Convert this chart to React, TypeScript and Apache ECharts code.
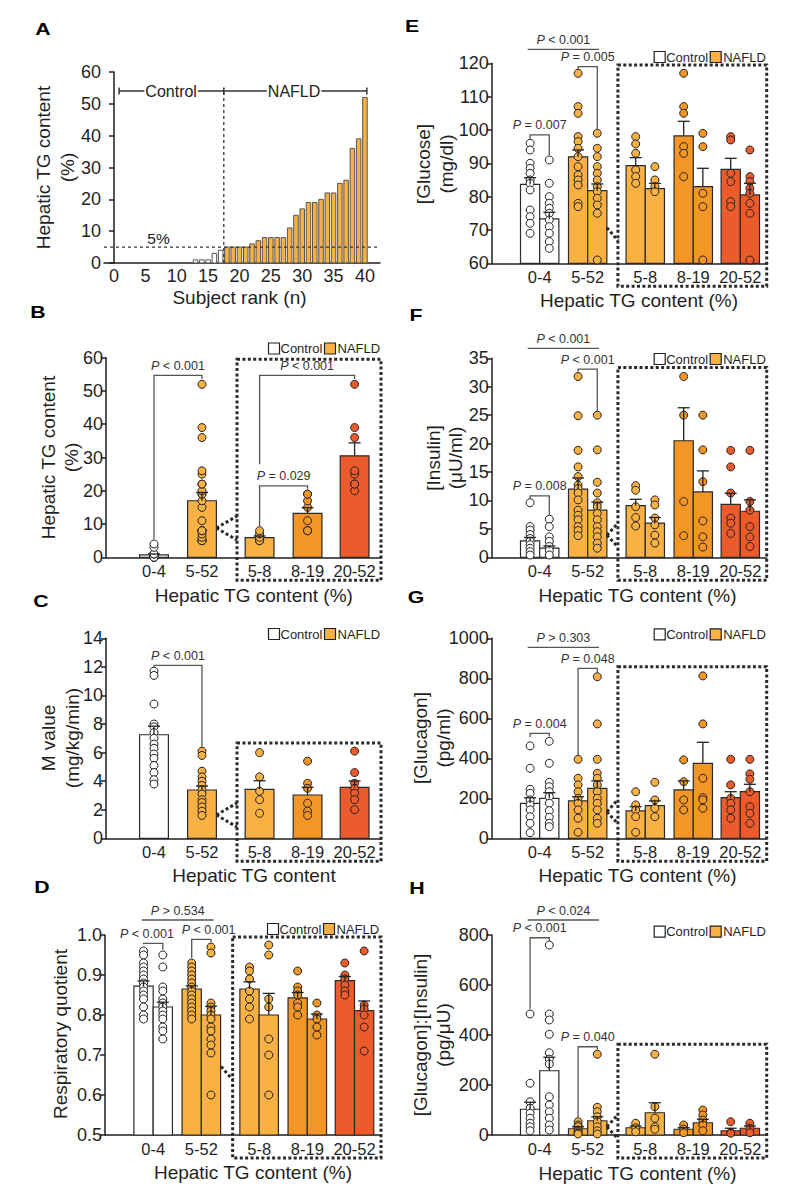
import React, { useEffect, useRef } from "react";
import * as echarts from "echarts";

// ================= DATA =================
const groupLabels = ["0-4", "5-52", "5-8", "8-19", "20-52"];

// Panel A: hepatic TG content of each subject, ordered by rank
const subjectTG = [0, 0, 0, 0, 0, 0, 0, 0, 0, 0, 0, 0, 1, 1, 1, 3, 4, 5, 5, 5, 5, 6, 7, 8, 8, 8, 8, 11, 15, 17, 19, 19, 20, 22, 22, 25, 26, 36, 39, 52];
const controlSubjects = 17;
const rankTicks = [0, 5, 10, 15, 20, 25, 30, 35, 40];
const tgTicksA = [0, 10, 20, 30, 40, 50, 60];

// Panel B: hepatic TG content
const tgTicks = [0, 10, 20, 30, 40, 50, 60];
const tgMean = [0.7, 17.0, 5.9, 13.2, 30.5];
const tgSem = [0.3, 2.5, 0.5, 1.7, 3.9];
const tgPoints = [
  [0, 0, 0, 0, 0, 0, 0, 0, 0, 0, 0, 0, 1, 1, 1, 3, 4],
  [5, 5, 5, 5, 6, 7, 8, 8, 8, 8, 11, 15, 17, 19, 19, 20, 22, 22, 25, 26, 36, 39, 52],
  [5, 5, 5, 5, 6, 7, 8],
  [8, 8, 8, 11, 15, 17, 19, 19],
  [20, 22, 22, 25, 26, 36, 39, 52],
];

// Panel C: M value
const mTicks = [0, 2, 4, 6, 8, 10, 12, 14];
const mMean = [7.25, 3.38, 3.43, 3.03, 3.57];
const mSem = [0.6, 0.28, 0.6, 0.54, 0.44];
const mPoints = [
  [11.7, 11.4, 9.4, 8.0, 7.8, 7.4, 7.0, 6.6, 6.3, 5.9, 5.6, 5.1, 4.6, 4.1, 3.8],
  [6.1, 5.8, 4.7, 4.3, 4.0, 3.7, 3.4, 3.1, 2.7, 2.5, 2.2, 1.9, 1.6],
  [6.0, 4.3, 3.3, 2.7, 1.75],
  [5.4, 3.85, 3.5, 2.45, 1.9, 1.6],
  [6.1, 4.6, 3.85, 3.5, 3.15, 2.7, 2.0],
];

// Panel D: respiratory quotient (left / right bar of each pair)
const rqTicks = [0.5, 0.6, 0.7, 0.8, 0.9, 1.0];
const rqMeanL = [0.872, 0.865, 0.865, 0.843, 0.886];
const rqSemL = [0.013, 0.008, 0.018, 0.013, 0.01];
const rqMeanR = [0.82, 0.8, 0.8, 0.79, 0.811];
const rqSemR = [0.012, 0.022, 0.054, 0.0125, 0.024];
const rqPointsL = [
  [0.96, 0.95, 0.93, 0.92, 0.91, 0.9, 0.89, 0.88, 0.87, 0.86, 0.85, 0.84, 0.82, 0.8, 0.79],
  [0.93, 0.92, 0.91, 0.9, 0.89, 0.88, 0.87, 0.86, 0.85, 0.84, 0.83, 0.82, 0.81, 0.8, 0.79],
  [0.92, 0.91, 0.89, 0.86, 0.84, 0.82, 0.79],
  [0.91, 0.87, 0.86, 0.85, 0.83, 0.82, 0.8],
  [0.93, 0.9, 0.89, 0.875, 0.86, 0.85],
];
const rqPointsR = [
  [0.95, 0.92, 0.87, 0.86, 0.84, 0.83, 0.82, 0.81, 0.8, 0.79, 0.77, 0.76, 0.74],
  [0.97, 0.955, 0.83, 0.82, 0.81, 0.8, 0.79, 0.77, 0.76, 0.74, 0.725, 0.705, 0.6],
  [0.975, 0.95, 0.84, 0.82, 0.74, 0.7, 0.6],
  [0.83, 0.8, 0.79, 0.77, 0.75],
  [0.96, 0.825, 0.815, 0.8, 0.77, 0.71],
];

// Panel E: glucose
const gluTicks = [60, 70, 80, 90, 100, 110, 120];
const gluMeanL = [83.7, 91.9, 89.3, 98.2, 88.2];
const gluSemL = [2.0, 2.1, 2.4, 4.4, 3.3];
const gluMeanR = [73.3, 81.8, 82.4, 83.0, 80.5];
const gluSemR = [2.0, 2.0, 1.6, 5.5, 3.5];
const gluPointsL = [
  [96, 94, 90, 88.5, 87, 85, 84, 82, 76, 74, 72, 69],
  [117, 107, 105, 98, 96.5, 94.5, 92, 89, 86.5, 85, 83.5, 78, 77],
  [98, 95.8, 93, 88, 86, 84],
  [117, 107, 105, 95, 93, 86],
  [98, 97, 87, 84.5, 78.5, 77],
];
const gluPointsR = [
  [91, 84, 80, 78, 76.5, 75, 73, 71, 69, 66.5, 64.5],
  [99, 94.5, 92, 89, 87, 85, 83, 81.5, 79.5, 77.5, 75, 61],
  [89, 85, 83, 81.5],
  [99, 95, 81, 77, 61],
  [94, 86, 84.5, 82.5, 81, 78, 75, 61],
];

// Panel F: insulin
const insTicks = [0, 5, 10, 15, 20, 25, 30, 35];
const insMeanL = [2.9, 12.0, 9.1, 20.5, 9.3];
const insSemL = [0.6, 1.95, 1.1, 5.8, 1.95];
const insMeanR = [1.6, 8.3, 6.0, 11.5, 8.1];
const insSemR = [0.4, 1.4, 1.0, 3.7, 2.0];
const insPointsL = [
  [9.6, 5.4, 4.8, 4.0, 3.3, 2.8, 2.2, 1.6, 1.0, 0.4],
  [31.8, 24.9, 18.8, 15.9, 14.2, 12.7, 12.1, 11.3, 10.1, 8.3, 7.4, 6.6, 5.4, 4.7, 3.8],
  [12.6, 11.8, 8.9, 7.0, 5.5],
  [31.8, 25, 9.8, 3.8],
  [18.8, 15.9, 11.3, 6.9, 6.0, 4.2],
];
const insPointsR = [
  [6.7, 5.4, 3.6, 2.8, 1.9, 1.2, 0.4],
  [25, 18.9, 13.2, 11.3, 9.6, 8.9, 7.7, 6.6, 5.4, 4.5, 3.6, 2.5, 1.6],
  [10.1, 9.2, 6.9, 5.7, 3.9, 2.5],
  [25, 18.9, 13.3, 6.4, 3.6, 1.8],
  [18.8, 9.8, 8.3, 5.4, 3.6, 1.9],
];

// Panel G: glucagon
const gcgTicks = [0, 200, 400, 600, 800, 1000];
const gcgMeanL = [175, 187, 137, 242, 203];
const gcgSemL = [28, 21, 21, 45, 30];
const gcgMeanR = [200, 250, 163, 375, 233];
const gcgSemR = [28, 37, 24, 105, 37];
const gcgPointsL = [
  [462, 350, 245, 225, 192, 167, 142, 108, 75, 28],
  [395, 300, 267, 233, 200, 175, 142, 100, 30],
  [233, 167, 142, 108, 30],
  [392, 283, 192, 142],
  [395, 267, 200, 175, 142, 100],
];
const gcgPointsR = [
  [485, 375, 280, 258, 233, 208, 175, 138, 105, 75, 58],
  [808, 572, 395, 325, 300, 267, 233, 200, 175, 142, 100, 75],
  [280, 192, 150, 108],
  [812, 572, 300, 203, 192, 150],
  [395, 322, 295, 233, 158, 125, 75],
];

// Panel H: glucagon : insulin
const ratioTicks = [0, 200, 400, 600, 800];
const ratioMeanL = [103, 25, 29, 23, 17];
const ratioSemL = [28, 8, 7, 6, 10];
const ratioMeanR = [257, 57, 89, 49, 27];
const ratioSemR = [54, 16, 40, 14, 9];
const ratioPointsL = [
  [484, 207, 133, 107, 87, 67, 47, 33, 17],
  [53, 40, 33, 20, 13, 7, 4],
  [47, 29, 13],
  [40, 23, 9],
  [53, 10, 7],
];
const ratioPointsR = [
  [760, 484, 460, 403, 329, 303, 284, 153, 120, 93, 67, 40, 20],
  [323, 111, 93, 73, 53, 33, 17, 4],
  [323, 113, 67, 33, 23],
  [100, 80, 60, 40, 17],
  [47, 27, 9],
];

// Significance brackets: [x1, x2, yTop, yLeftEnd, yRightEnd, label, textX?]
const tgBrackets = [
  [1, 2, 54.7, 5.5, 53.6, "< 0.001"],
  [3.2, 5.18, 54.7, 28, 53.6, "< 0.001"],
  [3.2, 4.2, 21.5, 9.4, 20.6, "= 0.029"],
];
const mBrackets = [[1, 2, 12.1, 12.0, 6.4, "< 0.001"]];
const rqBrackets = [
  [0.8, 1.2, 0.979, 0.977, 0.963, "< 0.001", 0.87],
  [1.8, 2.2, 0.989, 0.942, 0.982, "< 0.001", 2.15],
  [0.765, 2.256, 1.0375, 1.0375, 1.0375, "> 0.534"],
];
const gluBrackets = [
  [0.75, 2.235, 124.2, 124.2, 124.2, "< 0.001"],
  [1.8, 2.2, 119, 118.2, 100.3, "= 0.005"],
  [0.8, 1.2, 98.5, 97.4, 92.4, "= 0.007"],
];
const insBrackets = [
  [0.75, 2.235, 36.75, 36.75, 36.75, "< 0.001"],
  [1.8, 2.2, 33.1, 32.7, 25.7, "< 0.001"],
  [0.8, 1.2, 10.8, 10.3, 7.5, "= 0.008"],
];
const gcgBrackets = [
  [0.75, 2.235, 955, 955, 955, "> 0.303"],
  [1.8, 2.2, 850, 410, 830, "= 0.048"],
  [0.8, 1.2, 525, 505, 510, "= 0.004"],
];
const ratioBrackets = [
  [0.75, 2.235, 860, 860, 860, "< 0.024"],
  [0.8, 1.2, 789, 505, 777, "< 0.001"],
  [1.8, 2.2, 353, 72, 342, "= 0.040"],
];

// ================= STYLE / LAYOUT =================
const FONT = "'Liberation Sans', Arial, Helvetica, sans-serif";
const INK = "#1f1f1f";
const groupX = [1, 2, 3.2, 4.2, 5.18];
const X_MAX = 5.73;
const fills = ["#FFFFFF", "#F9B143", "#F9B143", "#F39626", "#EC5B2B"];
const LIGHT = "#F9B143";

const grids = [
  { left: 104, top: 72, width: 276, height: 191 }, // A
  { left: 106, top: 357.7, width: 275, height: 199.6 }, // B
  { left: 106, top: 638.3, width: 275, height: 200 }, // C
  { left: 105, top: 935, width: 276, height: 200 }, // D
  { left: 491.7, top: 63.3, width: 275, height: 200 }, // E
  { left: 491.7, top: 358.3, width: 275, height: 199 }, // F
  { left: 491.7, top: 638.3, width: 275, height: 200 }, // G
  { left: 491.7, top: 935, width: 275, height: 200 }, // H
];

function yAxisFor(gi: number, ticks: number[], decimals = 0) {
  return {
    type: "value",
    gridIndex: gi,
    min: ticks[0],
    max: ticks[ticks.length - 1],
    interval: ticks[1] - ticks[0],
    axisLine: { show: true, lineStyle: { color: INK, width: 1.5 } },
    axisTick: { show: true, length: 5, lineStyle: { color: INK, width: 1.5 } },
    splitLine: { show: false },
    axisLabel: {
      fontSize: 18,
      fontFamily: FONT,
      color: INK,
      margin: 3,
      formatter: (v: number) => v.toFixed(decimals),
    },
  };
}

function xAxisGroups(gi: number) {
  return {
    type: "value",
    gridIndex: gi,
    min: 0,
    max: X_MAX,
    axisLine: { show: true, onZero: false, lineStyle: { color: INK, width: 1.5 } },
    axisTick: { show: false },
    splitLine: { show: false },
    axisLabel: {
      customValues: groupX,
      fontSize: 16.5,
      fontFamily: FONT,
      color: INK,
      margin: 5,
      formatter: (v: number) => {
        const i = groupX.findIndex((g) => Math.abs(g - v) < 1e-6);
        return i >= 0 ? groupLabels[i] : "";
      },
    },
  };
}

const pRich = {
  i: { fontStyle: "italic", fontSize: 12.5, fontFamily: FONT, fill: "#333" },
  n: { fontSize: 12.5, fontFamily: FONT, fill: "#333" },
};

const DOT_STYLE = { stroke: "#2a2a2a", lineWidth: 3, lineDash: [3, 2.4], fill: "none" };

function panelSeries(opts: any) {
  const { gi, yMin, single, sides, brackets, box } = opts;
  const series: any[] = [];
  const defs = single
    ? [{ off: 0, hw: 0.3, ...sides[0] }]
    : [
        { off: -0.2, hw: 0.2, ...sides[0] },
        { off: 0.2, hw: 0.2, ...sides[1] },
      ];
  defs.forEach((s: any) => {
    const hw = s.hw;
    series.push({
      type: "custom",
      xAxisIndex: gi,
      yAxisIndex: gi,
      clip: false,
      silent: true,
      z: 1,
      data: groupX.map((c, i) => [c + s.off, s.mean[i], i]),
      renderItem: (params: any, api: any) => {
        const x = api.value(0);
        const m = api.value(1);
        const i = api.value(2);
        const a = api.coord([x - hw, yMin]);
        const b = api.coord([x + hw, m]);
        return {
          type: "rect",
          shape: { x: a[0], y: b[1], width: b[0] - a[0], height: a[1] - b[1] },
          style: { fill: fills[i], stroke: "#2a2a2a", lineWidth: 1.2 },
        };
      },
    });
    const pts: any[] = [];
    s.pts.forEach((arr: number[], i: number) => {
      arr.forEach((v) => {
        pts.push({ value: [groupX[i] + s.off, v], itemStyle: { color: fills[i] } });
      });
    });
    series.push({
      type: "scatter",
      xAxisIndex: gi,
      yAxisIndex: gi,
      silent: true,
      z: 3,
      symbol: "circle",
      symbolSize: 8,
      itemStyle: { borderColor: "#222", borderWidth: 1, opacity: 1 },
      emphasis: { disabled: true },
      data: pts,
    });
    series.push({
      type: "custom",
      xAxisIndex: gi,
      yAxisIndex: gi,
      clip: false,
      silent: true,
      z: 4,
      data: groupX.map((c, i) => [c + s.off, s.mean[i], s.sem[i]]),
      renderItem: (params: any, api: any) => {
        const x = api.value(0);
        const m = api.value(1);
        const e = api.value(2);
        const a = api.coord([x, m]);
        const b = api.coord([x, m + e]);
        const st = { stroke: "#222", lineWidth: 1.3 };
        return {
          type: "group",
          children: [
            { type: "line", shape: { x1: a[0], y1: a[1], x2: b[0], y2: b[1] }, style: st },
            { type: "line", shape: { x1: b[0] - 6, y1: b[1], x2: b[0] + 6, y2: b[1] }, style: st },
          ],
        };
      },
    });
  });

  series.push({
    type: "custom",
    xAxisIndex: gi,
    yAxisIndex: gi,
    clip: false,
    silent: true,
    z: 6,
    data: [[1, yMin]],
    renderItem: (params: any, api: any) => {
      const children: any[] = [];
      brackets.forEach((bk: any[]) => {
        const [x1, x2, y, yl, yr, label, tx] = bk;
        const points = [api.coord([x1, yl]), api.coord([x1, y]), api.coord([x2, y]), api.coord([x2, yr])];
        children.push({
          type: "polyline",
          shape: { points },
          style: { stroke: "#555", lineWidth: 1.3, fill: "none" },
        });
        const c = api.coord([tx !== undefined ? tx : (x1 + x2) / 2, y]);
        children.push({
          type: "text",
          x: c[0],
          y: c[1] - 9.5,
          style: {
            text: "{i|P}{n| " + label + "}",
            rich: pRich,
            align: "center",
            verticalAlign: "middle",
          },
        });
      });
      const tl = api.coord([box.left, box.top]);
      const br = api.coord([X_MAX, yMin]);
      children.push({
        type: "rect",
        shape: { x: tl[0], y: tl[1], width: br[0] - tl[0], height: br[1] + 23 - tl[1] },
        style: DOT_STYLE,
      });
      const s0 = api.coord([box.cx, box.cy]);
      const ends = box.both ? [-12, 12] : [13];
      ends.forEach((d: number) => {
        children.push({
          type: "line",
          shape: { x1: s0[0], y1: s0[1], x2: tl[0], y2: s0[1] + d },
          style: DOT_STYLE,
        });
      });
      return { type: "group", children };
    },
  });
  return series;
}

function panelASeries() {
  const series: any[] = [];
  series.push({
    type: "custom",
    xAxisIndex: 0,
    yAxisIndex: 0,
    clip: false,
    silent: true,
    z: 1,
    data: subjectTG.map((v, i) => [i + 1, v, i < controlSubjects ? 0 : 1]),
    renderItem: (params: any, api: any) => {
      const x = api.value(0);
      const v = api.value(1);
      if (!(v > 0)) return null;
      const a = api.coord([x - 0.36, 0]);
      const b = api.coord([x + 0.36, v]);
      return {
        type: "rect",
        shape: { x: a[0], y: b[1], width: b[0] - a[0], height: a[1] - b[1] },
        style: { fill: api.value(2) ? LIGHT : "#fff", stroke: "#555", lineWidth: 1 },
      };
    },
  });
  series.push({
    type: "custom",
    xAxisIndex: 0,
    yAxisIndex: 0,
    clip: false,
    silent: true,
    z: 5,
    data: [[1, 0]],
    renderItem: (params: any, api: any) => {
      const dash = { stroke: "#333", lineWidth: 1.3, lineDash: [3, 3] };
      const solid = { stroke: "#333", lineWidth: 1.5 };
      const h1 = api.coord([-1.6, 5]);
      const h2 = api.coord([42.4, 5]);
      const v1 = api.coord([17.5, 0]);
      const v2 = api.coord([17.5, 54.9]);
      const b1 = api.coord([0.8, 54]);
      const b2 = api.coord([40.3, 54]);
      const children: any[] = [
        { type: "line", shape: { x1: h1[0], y1: h1[1], x2: h2[0], y2: h2[1] }, style: dash },
        { type: "line", shape: { x1: v1[0], y1: v1[1], x2: v2[0], y2: v2[1] }, style: dash },
        { type: "line", shape: { x1: b1[0], y1: b1[1], x2: b2[0], y2: b2[1] }, style: solid },
        { type: "line", shape: { x1: b1[0], y1: b1[1] - 3.5, x2: b1[0], y2: b1[1] + 3.5 }, style: solid },
        { type: "line", shape: { x1: b2[0], y1: b2[1] - 3.5, x2: b2[0], y2: b2[1] + 3.5 }, style: solid },
        { type: "line", shape: { x1: v2[0], y1: b1[1] - 3.5, x2: v2[0], y2: b1[1] + 3.5 }, style: solid },
      ];
      const label = (txt: string, x: number) => {
        const p = api.coord([x, 54]);
        return {
          type: "text",
          x: p[0],
          y: p[1],
          style: {
            text: txt,
            fontSize: 16,
            fontFamily: FONT,
            fill: "#222",
            align: "center",
            verticalAlign: "middle",
            backgroundColor: "#fff",
            padding: [0, 1],
          },
        };
      };
      children.push(label("Control", 9.1));
      children.push(label("NAFLD", 28.7));
      const f = api.coord([7.1, 5]);
      children.push({
        type: "text",
        x: f[0],
        y: f[1] - 9,
        style: { text: "5%", fontSize: 15.5, fontFamily: FONT, fill: "#222", align: "center", verticalAlign: "middle" },
      });
      return { type: "group", children };
    },
  });
  return series;
}

function buildOption() {
  const xAxes: any[] = [
    {
      type: "value",
      gridIndex: 0,
      min: -1.6,
      max: 42.4,
      axisLine: { show: true, onZero: false, lineStyle: { color: INK, width: 1.5 } },
      axisTick: { show: false },
      splitLine: { show: false },
      axisLabel: { customValues: rankTicks, fontSize: 18, fontFamily: FONT, color: INK, margin: 4 },
    },
  ];
  for (let g = 1; g < 8; g++) xAxes.push(xAxisGroups(g));
  const yAxes = [
    yAxisFor(0, tgTicksA),
    yAxisFor(1, tgTicks),
    yAxisFor(2, mTicks),
    yAxisFor(3, rqTicks, 1),
    yAxisFor(4, gluTicks),
    yAxisFor(5, insTicks),
    yAxisFor(6, gcgTicks),
    yAxisFor(7, ratioTicks),
  ];

  const series: any[] = [
    ...panelASeries(),
    ...panelSeries({
      gi: 1, yMin: 0, single: true,
      sides: [{ mean: tgMean, sem: tgSem, pts: tgPoints }],
      brackets: tgBrackets,
      box: { left: 2.73, top: 59.5, cx: 2.3, cy: 8.8, both: true },
    }),
    ...panelSeries({
      gi: 2, yMin: 0, single: true,
      sides: [{ mean: mMean, sem: mSem, pts: mPoints }],
      brackets: mBrackets,
      box: { left: 2.73, top: 6.67, cx: 2.3, cy: 1.63, both: true },
    }),
    ...panelSeries({
      gi: 3, yMin: 0.5, single: false,
      sides: [
        { mean: rqMeanL, sem: rqSemL, pts: rqPointsL },
        { mean: rqMeanR, sem: rqSemR, pts: rqPointsR },
      ],
      brackets: rqBrackets,
      box: { left: 2.65, top: 0.995, cx: 2.41, cy: 0.671, both: false },
    }),
    ...panelSeries({
      gi: 4, yMin: 60, single: false,
      sides: [
        { mean: gluMeanL, sem: gluSemL, pts: gluPointsL },
        { mean: gluMeanR, sem: gluSemR, pts: gluPointsR },
      ],
      brackets: gluBrackets,
      box: { left: 2.63, top: 119.5, cx: 2.4, cy: 70.7, both: false },
    }),
    ...panelSeries({
      gi: 5, yMin: 0, single: false,
      sides: [
        { mean: insMeanL, sem: insSemL, pts: insPointsL },
        { mean: insMeanR, sem: insSemR, pts: insPointsR },
      ],
      brackets: insBrackets,
      box: { left: 2.63, top: 33.4, cx: 2.4, cy: 3.9, both: true },
    }),
    ...panelSeries({
      gi: 6, yMin: 0, single: false,
      sides: [
        { mean: gcgMeanL, sem: gcgSemL, pts: gcgPointsL },
        { mean: gcgMeanR, sem: gcgSemR, pts: gcgPointsR },
      ],
      brackets: gcgBrackets,
      box: { left: 2.63, top: 858, cx: 2.4, cy: 133, both: true },
    }),
    ...panelSeries({
      gi: 7, yMin: 0, single: false,
      sides: [
        { mean: ratioMeanL, sem: ratioSemL, pts: ratioPointsL },
        { mean: ratioMeanR, sem: ratioSemR, pts: ratioPointsR },
      ],
      brackets: ratioBrackets,
      box: { left: 2.63, top: 363, cx: 2.4, cy: 33, both: true },
    }),
  ];

  // ---- static text via graphic ----
  const g: any[] = [];
  const txt = (text: string, x: number, y: number, extra: any = {}) => ({
    type: "text",
    x,
    y,
    silent: true,
    ...(extra.el || {}),
    style: {
      text,
      fontFamily: FONT,
      fontSize: 19,
      fill: INK,
      align: "center",
      verticalAlign: "middle",
      ...(extra.style || {}),
    },
  });
  const letters: [string, number, number][] = [
    ["A", 43, 29], ["B", 38, 312], ["C", 41, 601], ["D", 42, 887],
    ["E", 412, 26], ["F", 416, 315], ["G", 416, 597], ["H", 417, 888],
  ];
  letters.forEach(([t, x, y]) =>
    g.push(txt(t, x, y, { el: { scaleX: 1.25 }, style: { fontWeight: "bold", fontSize: 17, fill: "#000" } }))
  );
  const yTitles: [string, number, number][] = [
    ["Hepatic TG content", 43, 167.5], ["(%)", 67, 167.5],
    ["Hepatic TG content", 48, 457.5], ["(%)", 71, 457.5],
    ["M value", 48, 738], ["(mg/kg/min)", 72, 738],
    ["Respiratory quotient", 60, 1034],
    ["[Glucose]", 423, 164], ["(mg/dl)", 446, 164],
    ["[Insulin]", 433, 458], ["(μU/ml)", 455, 458],
    ["[Glucagon]", 420, 738], ["(pg/ml)", 443, 738],
    ["[Glucagon]:[Insulin]", 420, 1035], ["(pg/μU)", 443, 1035],
  ];
  yTitles.forEach(([t, x, y]) => g.push(txt(t, x, y, { el: { rotation: Math.PI / 2 } })));
  const xTitles: [string, number, number][] = [
    ["Subject rank (n)", 239.5, 297],
    ["Hepatic TG content (%)", 253.8, 595],
    ["Hepatic TG content", 254, 875],
    ["Hepatic TG content (%)", 253, 1172],
    ["Hepatic TG content (%)", 639, 300],
    ["Hepatic TG content (%)", 637.5, 595],
    ["Hepatic TG content (%)", 637.5, 875],
    ["Hepatic TG content (%)", 637.5, 1173],
  ];
  xTitles.forEach(([t, x, y]) => g.push(txt(t, x, y)));
  const legendAt: [number, number][] = [
    [106, 348.5], [106, 634], [105, 929], [491.7, 57], [491.7, 359], [491.7, 634.3], [491.7, 931.7],
  ];
  legendAt.forEach(([ax, yc]) => {
    const sq = (x: number, fill: string) => ({
      type: "rect",
      silent: true,
      shape: { x, y: yc - 5.5, width: 11, height: 11 },
      style: { fill, stroke: "#222", lineWidth: 1.2 },
    });
    g.push(sq(ax + 162.5, "#fff"));
    g.push(txt("Control", ax + 174.5, yc, { style: { fontSize: 13, align: "left" } }));
    g.push(sq(ax + 218.5, LIGHT));
    g.push(txt("NAFLD", ax + 231.5, yc, { style: { fontSize: 13, align: "left" } }));
  });

  return {
    animation: false,
    backgroundColor: "#fff",
    grid: grids.map((r) => ({ ...r, containLabel: false, outerBoundsMode: "none" })),
    xAxis: xAxes,
    yAxis: yAxes,
    series,
    graphic: { elements: g },
  };
}

export default function App() {
  const ref = useRef<HTMLDivElement>(null);
  useEffect(() => {
    const chart = echarts.init(ref.current as HTMLDivElement, null, { renderer: "svg" });
    chart.setOption(buildOption() as any);
    return () => chart.dispose();
  }, []);
  return (
    <div
      ref={ref}
      style={{ position: "absolute", left: 0, top: 0, width: 790, height: 1190, background: "#fff" }}
    />
  );
}
